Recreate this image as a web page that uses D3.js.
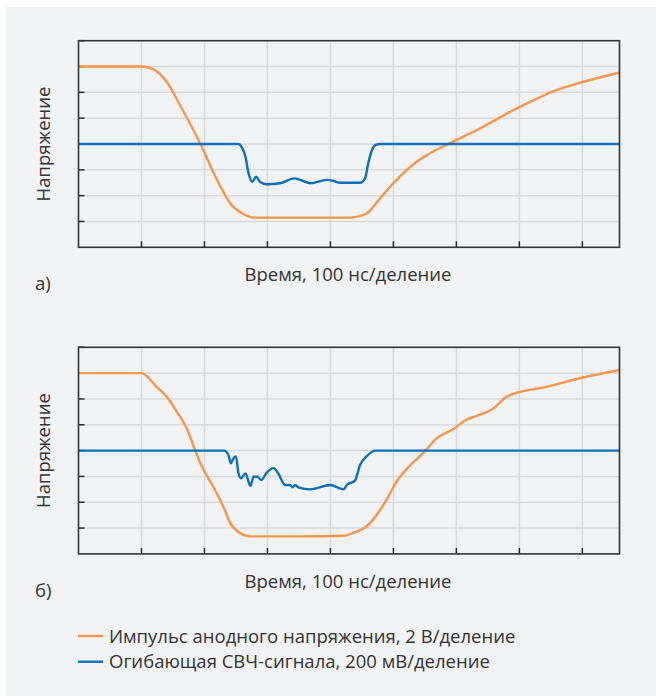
<!DOCTYPE html>
<html>
<head>
<meta charset="utf-8">
<script src="https://cdn.jsdelivr.net/npm/d3@7"></script>
<style>
  html, body { margin: 0; padding: 0; background: #ffffff; }
  svg { display: block; font-family: "Open Sans", sans-serif; }
</style>
</head>
<body>
<svg id="chart" width="656" height="696"></svg>
<script>
// x: time divisions, y: voltage divisions
const topPulse = [
  [0, 7.0], [1.0, 7.0], [1.19, 6.89], [1.40, 6.41], [1.61, 5.51], [1.93, 4.03],
  [2.20, 2.61], [2.41, 1.70], [2.62, 1.29], [2.78, 1.15], [3.2, 1.15], [4.31, 1.15],
  [4.45, 1.2], [4.58, 1.32], [4.79, 1.90], [5.00, 2.48], [5.37, 3.31], [5.53, 3.57],
  [5.90, 4.03], [6.38, 4.61], [6.96, 5.38], [7.59, 6.09], [8.02, 6.41], [8.59, 6.77]
];
const topEnvelope = [
  [0, 4.0], [2.54, 4.0], [2.59, 3.89], [2.65, 3.51], [2.70, 2.87], [2.76, 2.54],
  [2.82, 2.73], [2.88, 2.54], [2.99, 2.44], [3.20, 2.48], [3.43, 2.67], [3.52, 2.61],
  [3.68, 2.48], [3.94, 2.61], [4.05, 2.57], [4.15, 2.50], [4.47, 2.50], [4.55, 2.67],
  [4.60, 3.25], [4.66, 3.77], [4.72, 3.97], [4.79, 4.0], [8.59, 4.0]
];
const botPulse = [
  [0, 7.0], [1.0, 7.0], [1.06, 6.93], [1.24, 6.47], [1.40, 6.09], [1.56, 5.51],
  [1.72, 4.86], [1.85, 4.02], [1.96, 3.38], [2.14, 2.60], [2.30, 1.83], [2.41, 1.19],
  [2.57, 0.80], [2.72, 0.68], [3.5, 0.68], [4.21, 0.70], [4.37, 0.82], [4.58, 1.08],
  [4.79, 1.70], [4.92, 2.22], [5.05, 2.80], [5.27, 3.44], [5.48, 3.92], [5.69, 4.48],
  [5.95, 4.83], [6.17, 5.21], [6.32, 5.34], [6.59, 5.64], [6.80, 6.09], [6.96, 6.24],
  [7.43, 6.47], [7.96, 6.80], [8.59, 7.12]
];
const botEnvelope = [
  [0, 4.0], [2.31, 4.0], [2.38, 3.83], [2.42, 3.51], [2.46, 3.70], [2.50, 3.77],
  [2.54, 3.12], [2.58, 2.93], [2.65, 3.12], [2.73, 2.63], [2.78, 2.99], [2.84, 2.99],
  [2.90, 2.86], [2.99, 3.15], [3.10, 3.32], [3.17, 3.12], [3.28, 2.67], [3.36, 2.67],
  [3.40, 2.58], [3.44, 2.67], [3.49, 2.58], [3.68, 2.50], [4.0, 2.67], [4.15, 2.54],
  [4.21, 2.50], [4.26, 2.67], [4.39, 2.84], [4.47, 3.44], [4.58, 3.79], [4.71, 4.0],
  [8.59, 4.0]
];
const xTicks = [1, 2, 3, 4, 5, 6, 7, 8];
const yTicks = [1, 2, 3, 4, 5, 6, 7, 8];
const panelLabels = ["а)", "б)"];
const xTitle = "Время, 100 нс/деление";
const yTitle = "Напряжение";
const legendNames = ["Импульс анодного напряжения, 2 В/деление", "Огибающая СВЧ-сигнала, 200 мВ/деление"];

const ORANGE = "#f7964a", BLUE = "#0b70bb", TEXT = "#333333";
const FS = 18.5;

const svg = d3.select("#chart");
svg.append("rect").attr("x", 6).attr("y", 7).attr("width", 650).attr("height", 689).attr("fill", "#f1f2f4");

const left = 78.5, right = 619.5, plotH = 206.6;
const x = d3.scaleLinear().domain([0, 8.59]).range([left, right]);

const panels = [
  {top: 40.7, pulse: topPulse, env: topEnvelope, label: panelLabels[0]},
  {top: 347.3, pulse: botPulse, env: botEnvelope, label: panelLabels[1]}
];

panels.forEach(p => {
  const y = d3.scaleLinear().domain([0, 8]).range([p.top + plotH, p.top]);
  const g = svg.append("g");

  g.selectAll("line.vg").data(xTicks).enter().append("line")
    .attr("x1", d => x(d)).attr("x2", d => x(d))
    .attr("y1", y(0)).attr("y2", y(8))
    .attr("stroke", "#d8d9db").attr("stroke-width", 1.5);
  g.selectAll("line.hg").data(yTicks.slice(0, 7)).enter().append("line")
    .attr("x1", left).attr("x2", right)
    .attr("y1", d => y(d)).attr("y2", d => y(d))
    .attr("stroke", "#d8d9db").attr("stroke-width", 1.5);

  // inward ticks
  g.selectAll("line.xt").data(xTicks).enter().append("line")
    .attr("x1", d => x(d)).attr("x2", d => x(d))
    .attr("y1", y(0)).attr("y2", y(0) - 6)
    .attr("stroke", "#2b2b2b").attr("stroke-width", 1.5);
  g.selectAll("line.yt").data(yTicks).enter().append("line")
    .attr("x1", left).attr("x2", left + 6)
    .attr("y1", d => y(d)).attr("y2", d => y(d))
    .attr("stroke", "#2b2b2b").attr("stroke-width", 1.5);

  const line = d3.line().x(d => x(d[0])).y(d => y(d[1])).curve(d3.curveMonotoneX);
  g.append("path").attr("d", line(p.pulse)).attr("fill", "none")
    .attr("stroke", ORANGE).attr("stroke-width", 2.4).attr("stroke-linejoin", "round");
  g.append("path").attr("d", line(p.env)).attr("fill", "none")
    .attr("stroke", BLUE).attr("stroke-width", 2.4).attr("stroke-linejoin", "round");

  g.append("rect").attr("x", left).attr("y", p.top).attr("width", right - left).attr("height", plotH)
    .attr("fill", "none").attr("stroke", "#333333").attr("stroke-width", 1.6);

  g.append("text").attr("transform", `translate(50,${p.top + plotH / 2}) rotate(-90)`)
    .attr("text-anchor", "middle").attr("font-size", FS).attr("fill", TEXT).text(yTitle);
  g.append("text").attr("x", 348).attr("y", p.top + plotH + 34)
    .attr("text-anchor", "middle").attr("font-size", FS).attr("fill", TEXT).text(xTitle);
  g.append("text").attr("x", 35).attr("y", p.top + plotH + 43)
    .attr("font-size", FS).attr("fill", TEXT).text(p.label);
});

const legend = svg.append("g");
[ORANGE, BLUE].forEach((c, i) => {
  const ly = 636 + i * 25.7;
  legend.append("line").attr("x1", 78).attr("x2", 103).attr("y1", ly).attr("y2", ly)
    .attr("stroke", c).attr("stroke-width", 2.4);
  legend.append("text").attr("x", 109).attr("y", ly + 6.7)
    .attr("font-size", FS).attr("fill", TEXT).text(legendNames[i]);
});
</script>
</body>
</html>
